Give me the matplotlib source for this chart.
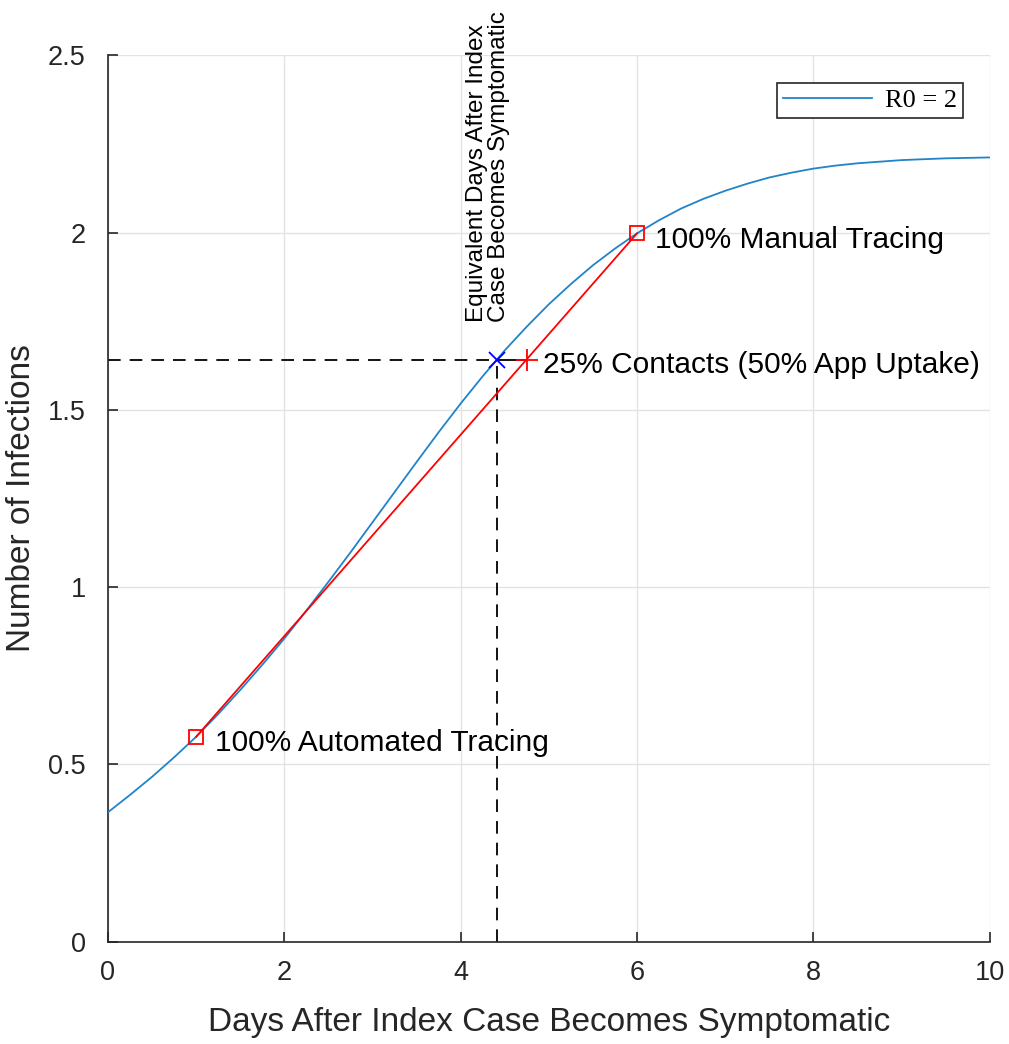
import numpy as np
import matplotlib
matplotlib.use("Agg")
import matplotlib.pyplot as plt

# infections vs. days after index case becomes symptomatic (R0 = 2)
days = [0, 0.25, 0.5, 0.75, 1, 1.25, 1.5, 1.75, 2, 2.25, 2.5, 2.75, 3, 3.25, 3.5, 3.75,
        4, 4.25, 4.5, 4.75, 5, 5.25, 5.5, 5.75, 6, 6.25, 6.5, 6.75, 7, 7.25, 7.5, 7.75,
        8, 8.25, 8.5, 8.75, 9, 9.5, 10]
infections = [0.365, 0.414, 0.465, 0.520, 0.578, 0.642, 0.710, 0.781, 0.855, 0.934,
              1.015, 1.098, 1.183, 1.268, 1.353, 1.437, 1.518, 1.595, 1.668, 1.735,
              1.798, 1.855, 1.908, 1.955, 1.998, 2.035, 2.068, 2.095, 2.118, 2.138,
              2.1555, 2.169, 2.1805, 2.189, 2.1955, 2.200, 2.2045, 2.2095, 2.212]

# tracing scenarios (days, infections)
auto_pt = (1.0, 0.578)
manual_pt = (6.0, 1.998)
contacts_pt = (4.75, 1.642)
equiv_pt = (4.41, 1.642)

plt.rcParams['font.family'] = ['Liberation Sans', 'DejaVu Sans']
txt_col = '#262626'

fig = plt.figure(figsize=(10.09, 10.44), dpi=100)
ax = fig.add_axes([0.107, 0.098, 0.874, 0.849])

ax.plot(days, infections, color='#2183c9', lw=1.3, label='R0 = 2', zorder=3)
ax.plot([auto_pt[0], manual_pt[0]], [auto_pt[1], manual_pt[1]], color='r', lw=1.3, zorder=3)
ax.plot([auto_pt[0], manual_pt[0]], [auto_pt[1], manual_pt[1]], 's', color='r',
        mfc='none', ms=10, mew=1.3, zorder=4)
ax.plot(*contacts_pt, '+', color='r', ms=16, mew=1.3, zorder=4)

# equivalent-day guide lines
ax.plot([0, equiv_pt[0]], [equiv_pt[1], equiv_pt[1]], 'k--', lw=1.3, dashes=(7, 5), zorder=2)
ax.plot([equiv_pt[0], equiv_pt[0]], [0, equiv_pt[1]], 'k--', lw=1.3, dashes=(7, 5), zorder=2)
ax.plot([equiv_pt[0], contacts_pt[0]], [equiv_pt[1], contacts_pt[1]], 'k-', lw=1.3, zorder=2)
ax.plot(*equiv_pt, 'x', color='b', ms=12, mew=1.3, zorder=5)

ax.text(auto_pt[0] + 0.21, auto_pt[1] - 0.018, '100% Automated Tracing', fontsize=21.5,
        va='center', ha='left', color='k')
ax.text(manual_pt[0] + 0.2, manual_pt[1] - 0.02, '100% Manual Tracing', fontsize=21.5,
        va='center', ha='left', color='k')
ax.text(contacts_pt[0] + 0.18, contacts_pt[1] - 0.015, '25% Contacts (50% App Uptake)',
        fontsize=21.5, va='center', ha='left', color='k')
ax.text(4.31, 1.748, 'Equivalent Days After Index\nCase Becomes Symptomatic', fontsize=17.5,
        rotation=90, ha='center', va='bottom', multialignment='left', color='k',
        linespacing=1.0)

ax.set_xlim(0, 10)
ax.set_ylim(0, 2.5)
ax.set_xticks(np.arange(0, 11, 2))
ax.set_yticks(np.arange(0, 2.51, 0.5))
ax.set_yticklabels(['0', '0.5', '1', '1.5', '2', '2.5'])
ax.grid(True, color='#e3e3e3', lw=1.0)
ax.set_axisbelow(True)
for s in ['top', 'right']:
    ax.spines[s].set_visible(False)
for s in ['left', 'bottom']:
    ax.spines[s].set_color(txt_col)
    ax.spines[s].set_linewidth(1.2)
ax.tick_params(direction='in', length=7, width=1.2, color=txt_col, labelcolor=txt_col,
               labelsize=19.5)
ax.tick_params(axis='y', pad=16)
ax.tick_params(axis='x', pad=13)

ax.set_xlabel('Days After Index Case Becomes Symptomatic', fontsize=24, color=txt_col,
              labelpad=15)
ax.set_ylabel('Number of Infections', fontsize=24, color=txt_col, labelpad=8)

leg = ax.legend(loc='upper right', bbox_to_anchor=(0.985, 0.984), fancybox=False,
                framealpha=1, edgecolor=txt_col, handlelength=3.4,
                prop={'family': 'Liberation Serif', 'size': 19}, borderpad=0.22,
                handletextpad=0.5)
leg.get_frame().set_linewidth(1.2)

fig.savefig('out.png', dpi=100)
